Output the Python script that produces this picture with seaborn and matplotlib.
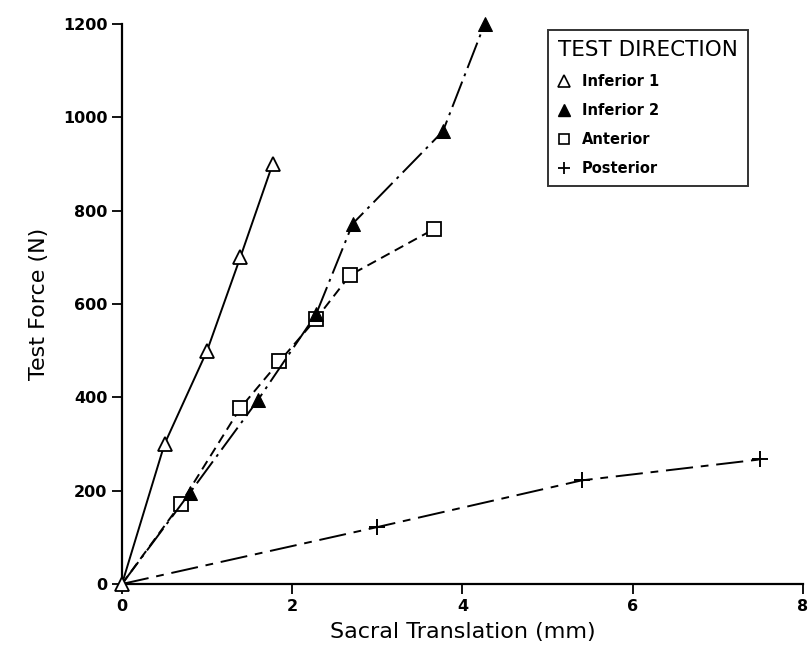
import matplotlib
matplotlib.use("Agg")
import matplotlib.pyplot as plt
import seaborn as sns
from matplotlib.lines import Line2D

# --- Datos ---
inf1_x = [0, 0.5, 1.0, 1.39, 1.77]
inf1_y = [0, 300, 500, 700, 900]

inf2_x = [0, 0.8, 1.6, 2.28, 2.71, 3.77, 4.26]
inf2_y = [0, 196, 395, 578, 772, 970, 1200]

ant_x = [0, 0.69, 1.39, 1.85, 2.28, 2.68, 3.67]
ant_y = [0, 172, 377, 477, 568, 662, 761]

post_x = [0, 3.0, 5.4, 7.5]
post_y = [0, 122, 222, 267]

labels = ["Inferior 1", "Inferior 2", "Anterior", "Posterior"]

sns.set_style("ticks")
plt.rcParams["font.family"] = ["DejaVu Sans"]
plt.rcParams["text.color"] = "black"
plt.rcParams["axes.labelcolor"] = "black"
plt.rcParams["xtick.color"] = "black"
plt.rcParams["ytick.color"] = "black"

fig = plt.figure(figsize=(8.1, 6.52), dpi=100)
ax = fig.add_axes([0.1506, 0.1043, 0.8407, 0.8589])

# --- Series (solo Inferior 1 marca el origen) ---
sns.lineplot(x=post_x, y=post_y, ax=ax, color="black", lw=1.4,
             marker="+", markersize=12, markeredgewidth=1.4,
             markeredgecolor="black", clip_on=False, zorder=2,
             markevery=list(range(1, len(post_x))),
             linestyle=(0, (14, 4, 4, 4)))
sns.lineplot(x=ant_x, y=ant_y, ax=ax, color="black", lw=1.4,
             marker="s", markersize=10, markerfacecolor="white",
             markeredgecolor="black", markeredgewidth=1.3, clip_on=False,
             zorder=3, markevery=list(range(1, len(ant_x))),
             linestyle=(0, (5, 3)))
sns.lineplot(x=inf2_x, y=inf2_y, ax=ax, color="black", lw=1.4,
             marker="^", markersize=10, markerfacecolor="black",
             markeredgecolor="black", clip_on=False, zorder=4,
             markevery=list(range(1, len(inf2_x))),
             linestyle=(0, (14, 3, 1.5, 3)))
sns.lineplot(x=inf1_x, y=inf1_y, ax=ax, color="black", lw=1.4,
             marker="^", markersize=10, markerfacecolor="white",
             markeredgecolor="black", markeredgewidth=1.3, clip_on=False,
             zorder=5, linestyle="-")

# --- Ejes ---
ax.set_xlim(0, 8)
ax.set_ylim(0, 1200)
ax.set_xticks([0, 2, 4, 6, 8])
ax.set_yticks([0, 200, 400, 600, 800, 1000, 1200])
sns.despine(ax=ax)
for side in ["left", "bottom"]:
    ax.spines[side].set_linewidth(1.6)
    ax.spines[side].set_color("black")
ax.tick_params(direction="out", length=7, width=1.3, colors="black",
               labelsize=11.5)
for lbl in ax.get_xticklabels() + ax.get_yticklabels():
    lbl.set_fontweight("bold")

ax.set_xlabel("Sacral Translation (mm)", fontsize=16, labelpad=6)
ax.set_ylabel("Test Force (N)", fontsize=16, labelpad=10)

# --- Leyenda ---
handles = [
    Line2D([], [], ls="none", marker="^", ms=8, mfc="white", mec="black", mew=1.2),
    Line2D([], [], ls="none", marker="^", ms=8, mfc="black", mec="black"),
    Line2D([], [], ls="none", marker="s", ms=7, mfc="white", mec="black", mew=1.2),
    Line2D([], [], ls="none", marker="+", ms=9, mec="black", mew=1.3),
]
leg = ax.legend(handles, labels, title="TEST DIRECTION",
                loc="upper left", bbox_to_anchor=(0.615, 1.002),
                frameon=True, fancybox=False, edgecolor="black",
                prop={"weight": "bold", "size": 10.5},
                title_fontproperties={"size": 15.5},
                handlelength=0.8, handletextpad=0.8, labelspacing=0.95,
                borderpad=0.7, alignment="left")
leg.get_frame().set_linewidth(1.4)
leg.set_zorder(10)

plt.savefig("out.png", dpi=100)
